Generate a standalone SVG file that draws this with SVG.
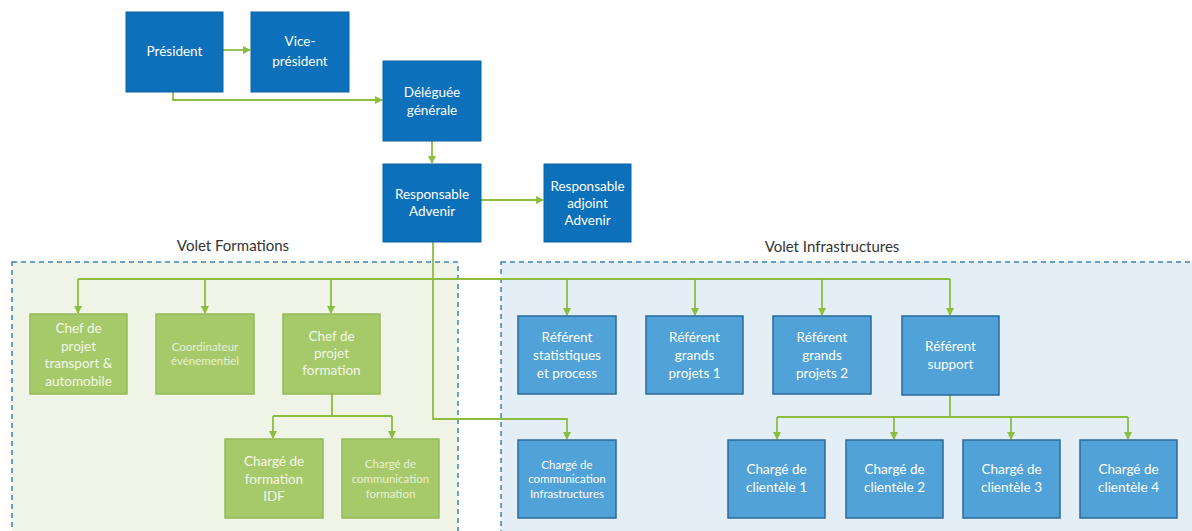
<svg xmlns="http://www.w3.org/2000/svg" width="1192" height="531" viewBox="0 0 1192 531">
<defs>
<marker id="ah" viewBox="0 0 8 8" refX="7" refY="4" markerWidth="8" markerHeight="8" markerUnits="userSpaceOnUse" orient="auto">
<path d="M0,0 L8,4 L0,8 Z" fill="#8CBD3F"/>
</marker>
<style>
.dk{fill:#0D70BB;stroke:#0B63A6;stroke-width:1}
.lb{fill:#50A2D8;stroke:#2B6A99;stroke-width:1.5}
.gr{fill:#A6CA6A;stroke:#95BA58;stroke-width:1.5}
.t{font-family:Lato,"Open Sans","Liberation Sans",sans-serif;font-size:13.5px;fill:#FFFFFF;text-anchor:middle}
.ts{font-family:Lato,"Open Sans","Liberation Sans",sans-serif;font-size:11.5px;fill:#FFFFFF;text-anchor:middle}
.tg{fill:#F2F7EA}
.tl{fill:#E6EFD6}
.vol{font-family:Lato,"Open Sans","Liberation Sans",sans-serif;font-size:15px;fill:#333333;text-anchor:middle}
.c{fill:none;stroke:#8CBD3F;stroke-width:1.8}
.ca{fill:none;stroke:#8CBD3F;stroke-width:1.8;marker-end:url(#ah)}
.zone{stroke:#3A83B8;stroke-width:1.5;stroke-dasharray:5 4}
</style>
</defs>
<rect width="1192" height="531" fill="#FFFFFF"/>
<g id="zone-formations">
<rect class="zone" x="12" y="262" width="446" height="285" fill="#F0F4E7"/>
<text class="vol" x="233" y="251">Volet Formations</text>
</g>
<g id="zone-infrastructures">
<rect class="zone" x="501" y="262" width="720" height="285" fill="#E4EEF7"/>
<text class="vol" x="832" y="252">Volet Infrastructures</text>
</g>
<g id="connectors">
<path class="ca" d="M223 50 H250"/>
<path class="ca" d="M173 92 V100 H382"/>
<path class="ca" d="M432 141 V163"/>
<path class="ca" d="M481 200 H543"/>
<path class="ca" d="M433 242 V419 H567 V439"/>
<path class="c" d="M78 279 H950"/>
<path class="ca" d="M78 279 V313"/>
<path class="ca" d="M205 279 V313"/>
<path class="ca" d="M331 279 V313"/>
<path class="ca" d="M567 279 V315"/>
<path class="ca" d="M695 279 V315"/>
<path class="ca" d="M822 279 V315"/>
<path class="ca" d="M950 279 V315"/>
<path class="c" d="M332 394 V416 M273 416 H392"/>
<path class="ca" d="M273 416 V438"/>
<path class="ca" d="M392 416 V438"/>
<path class="c" d="M950 395 V417 M777 417 H1128"/>
<path class="ca" d="M777 417 V439"/>
<path class="ca" d="M894 417 V439"/>
<path class="ca" d="M1011 417 V439"/>
<path class="ca" d="M1128 417 V439"/>
</g>
<g id="president"><rect class="dk" x="126" y="12" width="97" height="80"/><text class="t" x="174.5" y="56">Président</text></g>
<g id="vice-president"><rect class="dk" x="251" y="12" width="98" height="80"/><text class="t" x="300" y="46">Vice-</text><text class="t" x="300" y="66">président</text></g>
<g id="deleguee-generale"><rect class="dk" x="383" y="61" width="98" height="80"/><text class="t" x="432" y="97">Déléguée</text><text class="t" x="432" y="115">générale</text></g>
<g id="responsable-advenir"><rect class="dk" x="383" y="164" width="98" height="78"/><text class="t" x="432" y="199">Responsable</text><text class="t" x="432" y="216">Advenir</text></g>
<g id="responsable-adjoint"><rect class="dk" x="544" y="164" width="87" height="78"/><text class="t" x="587.5" y="191">Responsable</text><text class="t" x="587.5" y="208">adjoint</text><text class="t" x="587.5" y="225">Advenir</text></g>
<g id="chef-projet-transport"><rect class="gr" x="30" y="314" width="97" height="80"/><text class="t tg" x="78.5" y="333">Chef de</text><text class="t tg" x="78.5" y="351">projet</text><text class="t tg" x="78.5" y="368">transport &amp;</text><text class="t tg" x="78.5" y="386">automobile</text></g>
<g id="coordinateur"><rect class="gr" x="156" y="314" width="98" height="80"/><text class="ts tl" x="205" y="351">Coordinateur</text><text class="ts tl" x="205" y="365">événementiel</text></g>
<g id="chef-projet-formation"><rect class="gr" x="283" y="314" width="97" height="80"/><text class="t tg" x="331.5" y="341">Chef de</text><text class="t tg" x="331.5" y="358">projet</text><text class="t tg" x="331.5" y="375">formation</text></g>
<g id="charge-formation-idf"><rect class="gr" x="225" y="439" width="98" height="79"/><text class="t tg" x="274" y="466">Chargé de</text><text class="t tg" x="274" y="484">formation</text><text class="t tg" x="274" y="501">IDF</text></g>
<g id="charge-communication-formation"><rect class="gr" x="342" y="439" width="97" height="79"/><text class="ts tl" x="390.5" y="468">Chargé de</text><text class="ts tl" x="390.5" y="483">communication</text><text class="ts tl" x="390.5" y="498">formation</text></g>
<g id="referent-statistiques"><rect class="lb" x="518" y="316" width="98" height="78"/><text class="t" x="567" y="342">Référent</text><text class="t" x="567" y="360">statistiques</text><text class="t" x="567" y="378">et process</text></g>
<g id="referent-grands-projets-1"><rect class="lb" x="646" y="316" width="97" height="78"/><text class="t" x="694.5" y="342">Référent</text><text class="t" x="694.5" y="360">grands</text><text class="t" x="694.5" y="378">projets 1</text></g>
<g id="referent-grands-projets-2"><rect class="lb" x="773" y="316" width="98" height="78"/><text class="t" x="822" y="342">Référent</text><text class="t" x="822" y="360">grands</text><text class="t" x="822" y="378">projets 2</text></g>
<g id="referent-support"><rect class="lb" x="902" y="316" width="97" height="79"/><text class="t" x="950.5" y="351">Référent</text><text class="t" x="950.5" y="369">support</text></g>
<g id="charge-communication-infra"><rect class="lb" x="518" y="440" width="98" height="78"/><text class="ts" x="567" y="469">Chargé de</text><text class="ts" x="567" y="483">communication</text><text class="ts" x="567" y="498">Infrastructures</text></g>
<g id="charge-clientele-1"><rect class="lb" x="728" y="440" width="97" height="78"/><text class="t" x="776.5" y="474">Chargé de</text><text class="t" x="776.5" y="492">clientèle 1</text></g>
<g id="charge-clientele-2"><rect class="lb" x="846" y="440" width="97" height="78"/><text class="t" x="894.5" y="474">Chargé de</text><text class="t" x="894.5" y="492">clientèle 2</text></g>
<g id="charge-clientele-3"><rect class="lb" x="963" y="440" width="97" height="78"/><text class="t" x="1011.5" y="474">Chargé de</text><text class="t" x="1011.5" y="492">clientèle 3</text></g>
<g id="charge-clientele-4"><rect class="lb" x="1080" y="440" width="97" height="78"/><text class="t" x="1128.5" y="474">Chargé de</text><text class="t" x="1128.5" y="492">clientèle 4</text></g>
</svg>
